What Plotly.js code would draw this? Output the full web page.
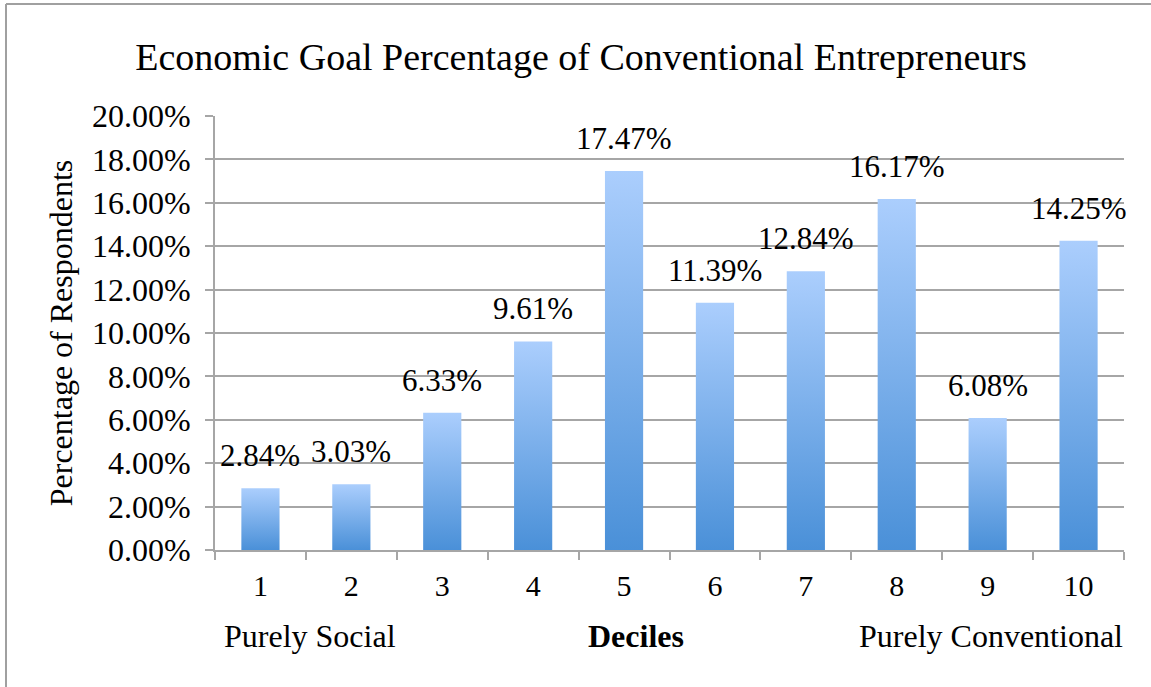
<!DOCTYPE html>
<html>
<head>
<meta charset="utf-8">
<script src="https://cdn.plot.ly/plotly-3.0.1.min.js"></script>
<style>
  html, body { margin: 0; padding: 0; background: #ffffff; }
  #chart { width: 1151px; height: 687px; }
</style>
</head>
<body>
<div id="chart"></div>
<script>
// ---- data ----
const deciles = ["1", "2", "3", "4", "5", "6", "7", "8", "9", "10"];
const percentages = [2.84, 3.03, 6.33, 9.61, 17.47, 11.39, 12.84, 16.17, 6.08, 14.25];
const yTickValues = [0, 2, 4, 6, 8, 10, 12, 14, 16, 18, 20];
const yTickLabels = ["0.00%", "2.00%", "4.00%", "6.00%", "8.00%", "10.00%", "12.00%", "14.00%", "16.00%", "18.00%", "20.00%"];
const chartTitle = "Economic Goal Percentage of Conventional Entrepreneurs";
const yAxisTitle = "Percentage of Respondents";
const xAxisTitle = "Deciles";
const leftEndLabel = "Purely Social";
const rightEndLabel = "Purely Conventional";

// ---- layout constants ----
const W = 1151, H = 687;
const M = { l: 215, r: 27, t: 116, b: 137 };
const PW = W - M.l - M.r, PH = H - M.t - M.b;
const px2x = p => (p - M.l) / PW;
const px2y = p => (H - M.b - p) / PH;

const FONT = '"Liberation Serif", "Times New Roman", Times, serif';
const GRID = '#a6a6a6';

const trace = {
  type: 'bar',
  x: deciles,
  y: percentages,
  marker: { color: '#7aaee8', line: { width: 0 } },
  hoverinfo: 'x+y'
};

// category positions on the axis are the indices of the deciles
const labelAnnotations = deciles.map((d, i) => ({
  x: i, y: percentages[i], xref: 'x', yref: 'y',
  text: percentages[i].toFixed(2) + '%',
  showarrow: false, yanchor: 'bottom', xanchor: 'center', yshift: 13,
  font: { family: FONT, size: 31, color: '#000' }
}));

const layout = {
  width: W, height: H,
  margin: M,
  paper_bgcolor: '#ffffff',
  plot_bgcolor: '#ffffff',
  showlegend: false,
  bargap: 0.58,
  title: {
    text: chartTitle,
    font: { family: FONT, size: 38, color: '#000' },
    x: 581 / W, xanchor: 'center', xref: 'container',
    y: 1 - 70 / H, yanchor: 'bottom', yref: 'container', pad: { b: 0 }
  },
  xaxis: {
    type: 'category',
    range: [-0.5, deciles.length - 0.5],
    autorange: false,
    tickson: 'boundaries',
    ticks: 'outside', ticklen: 8, tickwidth: 2, tickcolor: GRID,
    showline: true, linecolor: GRID, linewidth: 2,
    showgrid: false,
    tickfont: { family: FONT, size: 30, color: '#000' },
    ticklabelstandoff: 8,
    fixedrange: true
  },
  yaxis: {
    range: [0, 20],
    autorange: false,
    tickvals: yTickValues,
    ticktext: yTickLabels,
    ticks: 'outside', ticklen: 8, tickwidth: 2, tickcolor: GRID,
    showline: true, linecolor: GRID, linewidth: 2,
    showgrid: true, gridcolor: GRID, gridwidth: 2,
    zeroline: false,
    tickfont: { family: FONT, size: 32, color: '#000' },
    ticklabelstandoff: 8,
    title: { text: yAxisTitle, font: { family: FONT, size: 32, color: '#000' }, standoff: 10 },
    fixedrange: true
  },
  annotations: labelAnnotations.concat([
    { text: '<b>' + xAxisTitle + '</b>', xref: 'paper', yref: 'paper',
      x: px2x(636), y: px2y(636), xanchor: 'center', yanchor: 'middle', showarrow: false,
      font: { family: FONT, size: 32, color: '#000' } },
    { text: leftEndLabel, xref: 'paper', yref: 'paper',
      x: px2x(310), y: px2y(636), xanchor: 'center', yanchor: 'middle', showarrow: false,
      font: { family: FONT, size: 32, color: '#000' } },
    { text: rightEndLabel, xref: 'paper', yref: 'paper',
      x: px2x(991), y: px2y(636), xanchor: 'center', yanchor: 'middle', showarrow: false,
      font: { family: FONT, size: 32, color: '#000' } }
  ]),
  shapes: [
    { type: 'line', xref: 'paper', yref: 'paper', x0: px2x(6), x1: px2x(6), y0: px2y(4), y1: px2y(H + 5),
      line: { color: '#a0a0a0', width: 2 } },
    { type: 'line', xref: 'paper', yref: 'paper', x0: px2x(6), x1: px2x(W + 5), y0: px2y(4), y1: px2y(4),
      line: { color: '#a0a0a0', width: 2 } }
  ]
};

function applyGradient(gd) {
  const svg = gd.querySelector('.main-svg');
  if (!svg) return;
  let defs = svg.querySelector('defs');
  if (!defs) { defs = document.createElementNS('http://www.w3.org/2000/svg', 'defs'); svg.insertBefore(defs, svg.firstChild); }
  if (!svg.querySelector('#barGrad')) {
    const ns = 'http://www.w3.org/2000/svg';
    const lg = document.createElementNS(ns, 'linearGradient');
    lg.setAttribute('id', 'barGrad');
    lg.setAttribute('x1', '0'); lg.setAttribute('y1', '0');
    lg.setAttribute('x2', '0'); lg.setAttribute('y2', '1');
    [['0', '#abcefd'], ['1', '#4a90d8']].forEach(([o, c]) => {
      const s = document.createElementNS(ns, 'stop');
      s.setAttribute('offset', o); s.setAttribute('stop-color', c);
      lg.appendChild(s);
    });
    defs.appendChild(lg);
  }
  gd.querySelectorAll('.bars .point path').forEach(p => { p.style.fill = 'url(#barGrad)'; });
}

const gd = document.getElementById('chart');
Plotly.newPlot(gd, [trace], layout, { displayModeBar: false, staticPlot: true }).then(() => {
  applyGradient(gd);
  gd.on && gd.on('plotly_afterplot', () => applyGradient(gd));
});
</script>
</body>
</html>
